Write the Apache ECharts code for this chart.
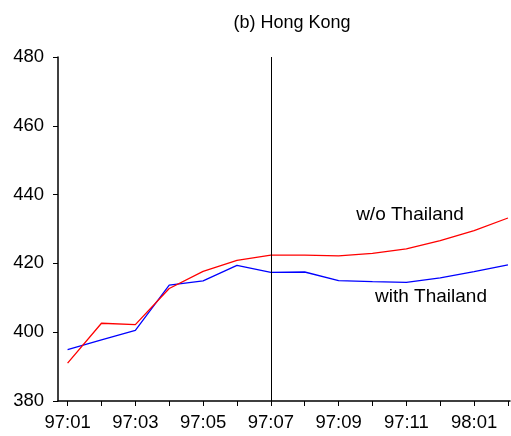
<!DOCTYPE html>
<html>
<head>
<meta charset="utf-8">
<script src="https://cdn.jsdelivr.net/npm/echarts@6/dist/echarts.min.js"></script>
<style>
  html, body { margin: 0; padding: 0; background: #fff; }
  #chart { width: 511px; height: 436px; }
</style>
</head>
<body>
<div id="chart"></div>
<script>
// Monthly index, Jan 1997 – Feb 1998
const months = ['97:01','97:02','97:03','97:04','97:05','97:06','97:07',
                '97:08','97:09','97:10','97:11','97:12','98:01','98:02'];
const withoutThailand = [391.0, 402.6, 402.2, 412.7, 417.7, 420.9, 422.4,
                         422.4, 422.2, 422.9, 424.2, 426.6, 429.5, 433.2];
const withThailand = [394.9, 397.8, 400.5, 413.7, 414.9, 419.4, 417.4,
                      417.5, 415.0, 414.7, 414.5, 415.8, 417.6, 419.6];
const yTicks = [380, 400, 420, 440, 460, 480];
const labelledMonths = [0, 2, 4, 6, 8, 10, 12];
const breakMonth = 6;

const FONT = 'Liberation Sans, Arial, sans-serif';
const chart = echarts.init(document.getElementById('chart'));

const toPairs = arr => arr.map((v, i) => [i, v]);

chart.setOption({
  animation: false,
  backgroundColor: '#fff',
  title: {
    text: '(b) Hong Kong',
    left: 287,
    top: 9,
    textAlign: 'center',
    textStyle: { fontFamily: FONT, fontSize: 18, fontWeight: 'normal', color: '#000' }
  },
  grid: { left: 58, right: 1, top: 57, bottom: 35 },
  xAxis: {
    type: 'value',
    min: -0.283,
    max: 13.06,
    splitLine: { show: false },
    axisLine: { onZero: false, lineStyle: { color: '#000', width: 1.5 } },
    axisTick: {
      show: true, length: 5, lineStyle: { color: '#000', width: 1 },
      customValues: months.map((m, i) => i)
    },
    axisLabel: {
      customValues: labelledMonths,
      formatter: v => months[Math.round(v)],
      margin: 12,
      fontFamily: FONT, fontSize: 18.5, color: '#000'
    }
  },
  yAxis: {
    type: 'value',
    min: yTicks[0],
    max: yTicks[yTicks.length - 1],
    interval: 20,
    splitLine: { show: false },
    axisLine: { show: true, onZero: false, lineStyle: { color: '#000', width: 1.5 } },
    axisTick: { show: true, length: 5, lineStyle: { color: '#000', width: 1 } },
    axisLabel: { margin: 14, fontFamily: FONT, fontSize: 18.5, color: '#000' }
  },
  series: [
    {
      name: 'w/o Thailand',
      type: 'line',
      data: toPairs(withoutThailand),
      symbol: 'none',
      lineStyle: { color: '#ff0000', width: 1.3 },
      z: 3,
      markLine: {
        silent: true,
        symbol: 'none',
        label: { show: false },
        lineStyle: { color: '#000', width: 1, type: 'solid' },
        data: [[{ coord: [breakMonth, 380] }, { coord: [breakMonth, 480] }]]
      }
    },
    {
      name: 'with Thailand',
      type: 'line',
      data: toPairs(withThailand),
      symbol: 'none',
      lineStyle: { color: '#0000ff', width: 1.3 },
      z: 2
    }
  ],
  graphic: [
    {
      type: 'text', x: 410, y: 215,
      style: { text: 'w/o Thailand', fill: '#000', font: '19px ' + FONT,
               textAlign: 'center', textVerticalAlign: 'middle' }
    },
    {
      type: 'text', x: 431, y: 297,
      style: { text: 'with Thailand', fill: '#000', font: '19px ' + FONT,
               textAlign: 'center', textVerticalAlign: 'middle' }
    }
  ]
});
</script>
</body>
</html>
